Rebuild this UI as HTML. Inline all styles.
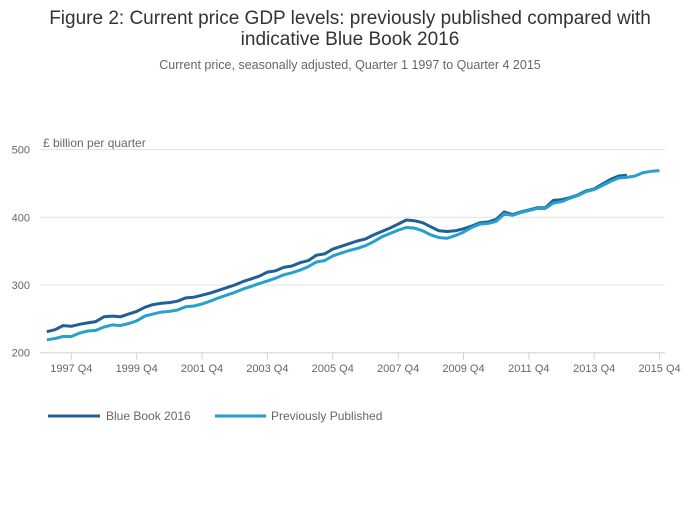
<!DOCTYPE html>
<html><head><meta charset="utf-8"><style>
body{margin:0;background:#fff;font-family:"Liberation Sans",sans-serif;}
svg text{font-family:"Liberation Sans",sans-serif;}
</style></head><body>
<svg width="700" height="502" xmlns="http://www.w3.org/2000/svg">
<text x="350" y="24" text-anchor="middle" font-size="19" fill="#333">Figure 2: Current price GDP levels: previously published compared with</text>
<text x="350" y="45" text-anchor="middle" font-size="19" fill="#333">indicative Blue Book 2016</text>
<text x="350" y="69" text-anchor="middle" font-size="12.5" fill="#666">Current price, seasonally adjusted, Quarter 1 1997 to Quarter 4 2015</text>
<text x="43" y="147" font-size="12" fill="#666">£ billion per quarter</text>
<g id="grid"></g><g id="xaxis"></g><g id="series"></g>
<g>
<line x1="48" y1="416" x2="100" y2="416" stroke="#206095" stroke-width="3"/>
<text x="106" y="420" font-size="12" fill="#666">Blue Book 2016</text>
<line x1="215" y1="416" x2="266" y2="416" stroke="#27a0cc" stroke-width="3"/>
<text x="271" y="420" font-size="12" fill="#666">Previously Published</text>
</g>
</svg>
<script>
const yTicks=[200,300,400,500];
const xTickLabels=["1997 Q4","1999 Q4","2001 Q4","2003 Q4","2005 Q4","2007 Q4","2009 Q4","2011 Q4","2013 Q4","2015 Q4"];
const xTickIndex=[3,11,19,27,35,43,51,59,67,75];
const blueBook=[231,234,240,239,242,244,246,253,254,253,257,261,267,271,273,274,276,281,282,285,288,292,296,300,305,309,313,319,321,326,328,333,336,344,346,353,357,361,365,368,374,379,384,390,396,395,392,386,380,379,380,383,387,392,393,397,408,404,408,411,414,414,425,426,429,433,439,442,449,456,461,462];
const previouslyPublished=[219,221,224,224,229,232,233,238,241,240,243,247,254,257,260,261,263,268,269,272,276,281,285,289,294,298,302,306,310,315,318,322,327,334,336,343,347,351,354,358,364,371,376,381,385,384,380,374,370,369,373,378,385,390,391,394,405,403,407,410,413,413,421,423,428,432,438,441,447,453,458,459,461,466,468,469];
const NS="http://www.w3.org/2000/svg";
const X0=46.8,DX=8.17,Y0=352.7,SY=0.677,L=40,R=665;
const xs=i=>X0+i*DX, ys=v=>Y0-(v-200)*SY;
const grid=document.getElementById('grid');
yTicks.forEach(v=>{
 const l=document.createElementNS(NS,'line');
 
 
 l.setAttribute('x1',L);l.setAttribute('x2',R);l.setAttribute('y1',ys(v));l.setAttribute('y2',ys(v));
 l.setAttribute('stroke',v===200?'#c8d3e6':'#e3e3e3');l.setAttribute('stroke-width',1);
 grid.appendChild(l);
 const t=document.createElementNS(NS,'text');
 
 
 t.setAttribute('x',30);t.setAttribute('y',ys(v)+4);t.setAttribute('text-anchor','end');
 t.setAttribute('font-size',11);t.setAttribute('fill','#666');t.textContent=v;grid.appendChild(t);
});
const xa=document.getElementById('xaxis');
xTickLabels.forEach((lab,k)=>{
 const x=xs(xTickIndex[k]);
 const l=document.createElementNS(NS,'line');
 
 
 l.setAttribute('x1',x);l.setAttribute('x2',x);l.setAttribute('y1',Y0);l.setAttribute('y2',Y0+7);
 l.setAttribute('stroke','#c8d3e6');xa.appendChild(l);
 const t=document.createElementNS(NS,'text');
 
 
 t.setAttribute('x',x);t.setAttribute('y',372);t.setAttribute('text-anchor','middle');
 t.setAttribute('font-size',11);t.setAttribute('fill','#666');t.textContent=lab;xa.appendChild(t);
});
const sg=document.getElementById('series');
function draw(arr,color,name){
 const p=document.createElementNS(NS,'path');
 
 
 p.setAttribute('d',arr.map((v,i)=>(i?'L':'M')+xs(i).toFixed(1)+' '+ys(v).toFixed(1)).join(''));
 p.setAttribute('fill','none');p.setAttribute('stroke',color);p.setAttribute('stroke-width',3);
 p.setAttribute('stroke-linejoin','round');sg.appendChild(p);
}
draw(blueBook,'#206095','series-blue-book-2016');
draw(previouslyPublished,'#27a0cc','series-previously-published');
</script>
</body></html>
